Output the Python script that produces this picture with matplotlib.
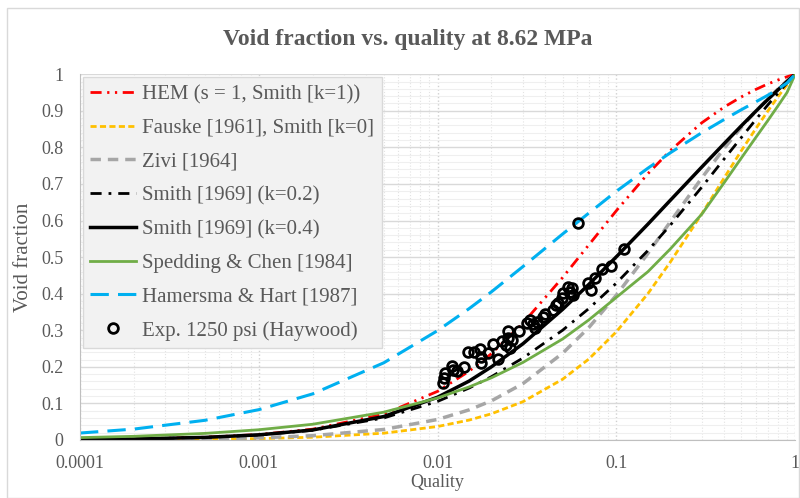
import matplotlib.pyplot as plt
from matplotlib.patches import Rectangle
from matplotlib.ticker import FixedLocator, MultipleLocator, LogLocator, NullFormatter

plt.rcParams['font.family'] = ['Liberation Serif', 'DejaVu Serif']

# quality values at which the curves were read
quality = [0.0001, 0.0002, 0.0005, 0.001, 0.002, 0.005, 0.01, 0.015, 0.02, 0.03,
           0.05, 0.07, 0.1, 0.15, 0.2, 0.3, 0.4, 0.5, 0.6, 0.7, 0.8, 0.9, 1.0]

hem = [0.0015, 0.0030, 0.0075, 0.0149, 0.0295, 0.0707, 0.133, 0.188, 0.236, 0.319,
       0.444, 0.533, 0.627, 0.728, 0.791, 0.867, 0.910, 0.938, 0.958, 0.973, 0.984, 0.993, 1.0]
fauske = [0.0004, 0.0008, 0.0019, 0.0038, 0.0075, 0.0186, 0.0368, 0.0544, 0.0716, 0.1047,
          0.166, 0.221, 0.296, 0.400, 0.486, 0.618, 0.716, 0.791, 0.850, 0.898, 0.938, 0.971, 1.0]
zivi = [0.0006, 0.0012, 0.0029, 0.0059, 0.0117, 0.0287, 0.0561, 0.0823, 0.107, 0.154,
        0.237, 0.307, 0.396, 0.510, 0.596, 0.716, 0.797, 0.855, 0.898, 0.932, 0.959, 0.982, 1.0]
smith_02 = [0.0014, 0.0028, 0.0070, 0.0137, 0.0265, 0.0602, 0.1055, 0.142, 0.173, 0.224,
            0.300, 0.359, 0.429, 0.518, 0.587, 0.691, 0.768, 0.827, 0.875, 0.915, 0.948, 0.976, 1.0]
smith_04 = [0.0014, 0.0028, 0.0071, 0.0140, 0.0273, 0.0641, 0.117, 0.161, 0.200, 0.263,
            0.357, 0.425, 0.501, 0.590, 0.655, 0.746, 0.810, 0.859, 0.898, 0.930, 0.957, 0.980, 1.0]
spedding = [0.0065, 0.0100, 0.0180, 0.0280, 0.0430, 0.076, 0.115, 0.145, 0.170, 0.212,
            0.276, 0.328, 0.390, 0.460, 0.522, 0.617, 0.703, 0.771, 0.826, 0.872, 0.913, 0.950, 1.0]
hamersma = [0.0190, 0.0298, 0.0538, 0.0829, 0.126, 0.211, 0.299, 0.359, 0.405, 0.474,
            0.563, 0.620, 0.680, 0.743, 0.785, 0.840, 0.876, 0.903, 0.924, 0.942, 0.959, 0.976, 1.0]

# Haywood experiment, 1250 psi
exp_x = [0.0107, 0.0109, 0.0110, 0.0121, 0.0122, 0.0129, 0.0141, 0.0148, 0.0160, 0.0173,
         0.0175, 0.0175, 0.0192, 0.0204, 0.0218, 0.0230, 0.0242, 0.0248, 0.0248, 0.0254,
         0.0261, 0.0286, 0.0317, 0.0329, 0.0342, 0.0351, 0.0360, 0.0389, 0.0399, 0.0443,
         0.0460, 0.0472, 0.0497, 0.0504, 0.0537, 0.0551, 0.0566, 0.0573, 0.0611, 0.0695,
         0.0722, 0.0761, 0.0832, 0.0935, 0.1105]
exp_y = [0.156, 0.169, 0.183, 0.202, 0.191, 0.189, 0.199, 0.240, 0.240, 0.249,
         0.210, 0.227, 0.238, 0.262, 0.221, 0.270, 0.260, 0.298, 0.279, 0.251,
         0.273, 0.298, 0.320, 0.328, 0.317, 0.306, 0.322, 0.336, 0.344, 0.355,
         0.369, 0.374, 0.388, 0.402, 0.418, 0.404, 0.415, 0.396, 0.593, 0.429,
         0.410, 0.443, 0.467, 0.475, 0.522]

x_ticks = [0.0001, 0.001, 0.01, 0.1, 1]
x_labels = ['0.0001', '0.001', '0.01', '0.1', '1']
y_ticks = [0, 0.1, 0.2, 0.3, 0.4, 0.5, 0.6, 0.7, 0.8, 0.9, 1]
y_labels = ['0', '0.1', '0.2', '0.3', '0.4', '0.5', '0.6', '0.7', '0.8', '0.9', '1']

txt = '#595959'

fig = plt.figure(figsize=(8, 4.98), dpi=100)
fig.patches.append(Rectangle((0.009, 0.0), 0.99, 0.984, transform=fig.transFigure,
                             fill=False, edgecolor='#D9D9D9', lw=1))
ax = fig.add_axes([0.1, 0.1165, 0.894, 0.7345])

ax.plot(quality, hem, color='#FF0000', lw=2, ls=(0, (4, 2, 0.8, 2, 0.8, 2)),
        label='HEM (s = 1, Smith [k=1))')
ax.plot(quality, fauske, color='#FFC000', lw=2, ls=(0, (2.2, 1.2)),
        label='Fauske [1961], Smith [k=0]')
ax.plot(quality, zivi, color='#A6A6A6', lw=2.5, ls=(0, (3, 2)), label='Zivi [1964]')
ax.plot(quality, smith_02, color='black', lw=2, ls=(0, (4, 2.5, 1, 2.5)),
        label='Smith [1969] (k=0.2)')
ax.plot(quality, smith_04, color='black', lw=2.5, label='Smith [1969] (k=0.4)')
ax.plot(quality, spedding, color='#70AD47', lw=2, label='Spedding & Chen [1984]')
ax.plot(quality, hamersma, color='#00B0F0', lw=2.2, ls=(0, (6, 3)),
        label='Hamersma & Hart [1987]')
ax.plot(exp_x, exp_y, ls='none', marker='o', ms=7, mfc='none', mec='black', mew=2,
        label='Exp. 1250 psi (Haywood)')

ax.set_xscale('log')
ax.set_xlim(0.0001, 1)
ax.set_ylim(0, 1)
ax.xaxis.set_major_locator(FixedLocator(x_ticks))
ax.set_xticklabels(x_labels)
ax.xaxis.set_minor_locator(LogLocator(base=10, subs=range(2, 10)))
ax.xaxis.set_minor_formatter(NullFormatter())
ax.set_yticks(y_ticks)
ax.set_yticklabels(y_labels)
ax.yaxis.set_minor_locator(MultipleLocator(0.02))

ax.grid(True, which='major', axis='y', color='#D9D9D9', lw=1)
ax.grid(True, which='minor', axis='y', color='#EFEFEF', lw=0.8)
ax.grid(True, which='major', axis='x', color='#D0D0D0', lw=1, ls=':')
ax.grid(True, which='minor', axis='x', color='#E3E3E3', lw=0.8, ls=':')
ax.set_axisbelow(True)

for s in ['top', 'right']:
    ax.spines[s].set_visible(False)
for s in ['left', 'bottom']:
    ax.spines[s].set_color('#BFBFBF')
ax.tick_params(which='both', length=0, labelsize=13, labelcolor=txt)
ax.tick_params(axis='x', pad=11)
ax.tick_params(axis='y', pad=12)

ax.set_xlabel('Quality', fontsize=13, color=txt, labelpad=1)
ax.set_ylabel('Void fraction', fontsize=15, color=txt, labelpad=6)
fig.text(0.51, 0.92, 'Void fraction vs. quality at 8.62 MPa', ha='center', va='center',
         fontsize=17, fontweight='bold', color=txt)

leg = ax.legend(loc='upper left', bbox_to_anchor=(0.0, 1.0), borderaxespad=0.15,
                fontsize=15, labelspacing=0.68, handlelength=2.2, handletextpad=0.3,
                frameon=True, fancybox=False, borderpad=0.35)
leg.get_frame().set_facecolor('#F2F2F2')
leg.get_frame().set_edgecolor('#D9D9D9')
leg.get_frame().set_alpha(1)
for t in leg.get_texts():
    t.set_color(txt)

fig.savefig('out.png', dpi=100)
